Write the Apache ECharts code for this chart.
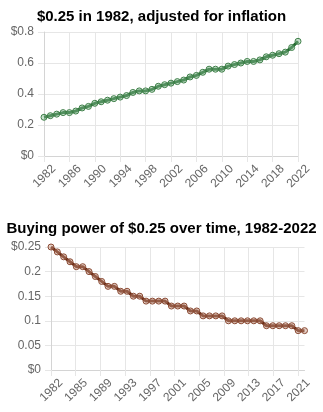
<!DOCTYPE html>
<html>
<head>
<meta charset="utf-8">
<script src="https://cdn.jsdelivr.net/npm/echarts@6/dist/echarts.min.js"></script>
<style>
  html, body { margin: 0; padding: 0; background: #fff; }
  #chart { width: 323px; height: 412px; }
</style>
</head>
<body>
<div id="chart"></div>
<script>
// Years covered by both panels
const years = [1982, 1983, 1984, 1985, 1986, 1987, 1988, 1989, 1990, 1991,
  1992, 1993, 1994, 1995, 1996, 1997, 1998, 1999, 2000, 2001,
  2002, 2003, 2004, 2005, 2006, 2007, 2008, 2009, 2010, 2011,
  2012, 2013, 2014, 2015, 2016, 2017, 2018, 2019, 2020, 2021, 2022];

// What $0.25 from 1982 is worth in each year's dollars
const adjustedValue = [0.25, 0.26, 0.27, 0.28, 0.28, 0.29, 0.31, 0.32, 0.34, 0.35,
  0.36, 0.37, 0.38, 0.39, 0.41, 0.42, 0.42, 0.43, 0.45, 0.46,
  0.47, 0.48, 0.49, 0.51, 0.52, 0.54, 0.56, 0.56, 0.56, 0.58,
  0.59, 0.60, 0.61, 0.61, 0.62, 0.64, 0.65, 0.66, 0.67, 0.70, 0.74];

// What $0.25 buys each year, in 1982 dollars
const buyingPower = [0.25, 0.24, 0.23, 0.22, 0.21, 0.21, 0.20, 0.19, 0.18, 0.17,
  0.17, 0.16, 0.16, 0.15, 0.15, 0.14, 0.14, 0.14, 0.14, 0.13,
  0.13, 0.13, 0.12, 0.12, 0.11, 0.11, 0.11, 0.11, 0.10, 0.10,
  0.10, 0.10, 0.10, 0.10, 0.09, 0.09, 0.09, 0.09, 0.09, 0.08, 0.08];

const topTitle = '$0.25 in 1982, adjusted for inflation';
const bottomTitle = 'Buying power of $0.25 over time, 1982-2022';

const FONT = '"Liberation Sans", Arial, Helvetica, sans-serif';
const GRID_COLOR = '#e6e6e6';
const AXIS_COLOR = '#d4d4d4';
const LABEL_COLOR = '#666';

function xAxisFor(gridIndex, interval) {
  return {
    type: 'value',
    gridIndex: gridIndex,
    min: years[0],
    max: years[years.length - 1],
    interval: interval,
    axisLine: { show: true, lineStyle: { color: AXIS_COLOR, width: 1 } },
    axisTick: { show: true, length: 6, lineStyle: { color: GRID_COLOR } },
    splitLine: { show: true, showMaxLine: interval === 4, lineStyle: { color: GRID_COLOR } },
    axisLabel: {
      rotate: 45,
      margin: 1,
      align: 'right',
      verticalAlign: 'top',
      padding: [8, 0, 0, 0],
      color: LABEL_COLOR,
      fontFamily: FONT,
      fontSize: 12,
      hideOverlap: false,
      showMinLabel: true,
      showMaxLabel: interval === 4,
      formatter: v => String(Math.floor(v + 1e-6))
    }
  };
}

function yAxisFor(gridIndex, max, interval, fmt) {
  return {
    type: 'value',
    gridIndex: gridIndex,
    min: 0,
    max: max,
    interval: interval,
    axisLine: { show: true, lineStyle: { color: AXIS_COLOR, width: 1 } },
    axisTick: { show: true, length: 6, lineStyle: { color: GRID_COLOR } },
    splitLine: { show: true, lineStyle: { color: GRID_COLOR } },
    axisLabel: {
      margin: 10,
      color: LABEL_COLOR,
      fontFamily: FONT,
      fontSize: 12,
      formatter: fmt
    }
  };
}

function money(maxVal) {
  return v => {
    const r = Math.round(v * 100) / 100;
    if (r === 0) return '$0';
    if (Math.abs(r - maxVal) < 1e-9) return '$' + r;
    return String(r);
  };
}

const chart = echarts.init(document.getElementById('chart'), null, { renderer: 'canvas' });

chart.setOption({
  animation: false,
  backgroundColor: '#fff',
  title: [
    {
      text: topTitle, left: 'center', top: 4,
      textStyle: { fontFamily: FONT, fontSize: 15, fontWeight: 'bold', color: '#000' }
    },
    {
      text: bottomTitle, left: 'center', top: 216,
      textStyle: { fontFamily: FONT, fontSize: 15, fontWeight: 'bold', color: '#000' }
    }
  ],
  grid: [
    { left: 44, right: 25, top: 32, bottom: 256 },
    { left: 51, right: 18.5, top: 247, bottom: 42 }
  ],
  xAxis: [xAxisFor(0, 4), xAxisFor(1, 3.9)],
  yAxis: [
    yAxisFor(0, 0.8, 0.2, money(0.8)),
    yAxisFor(1, 0.25, 0.05, money(0.25))
  ],
  series: [
    {
      type: 'line',
      xAxisIndex: 0, yAxisIndex: 0,
      data: years.map((y, i) => [y, adjustedValue[i]]),
      lineStyle: { color: '#236a30', width: 3 },
      symbol: 'circle',
      symbolSize: 6,
      itemStyle: { color: 'rgba(140,190,150,0.45)', borderColor: '#3f8049', borderWidth: 1 }
    },
    {
      type: 'line',
      xAxisIndex: 1, yAxisIndex: 1,
      data: years.map((y, i) => [y, buyingPower[i]]),
      lineStyle: { color: '#6a2c16', width: 3 },
      symbol: 'circle',
      symbolSize: 6,
      itemStyle: { color: 'rgba(200,150,130,0.45)', borderColor: '#8a4a33', borderWidth: 1 }
    }
  ]
});
</script>
</body>
</html>
